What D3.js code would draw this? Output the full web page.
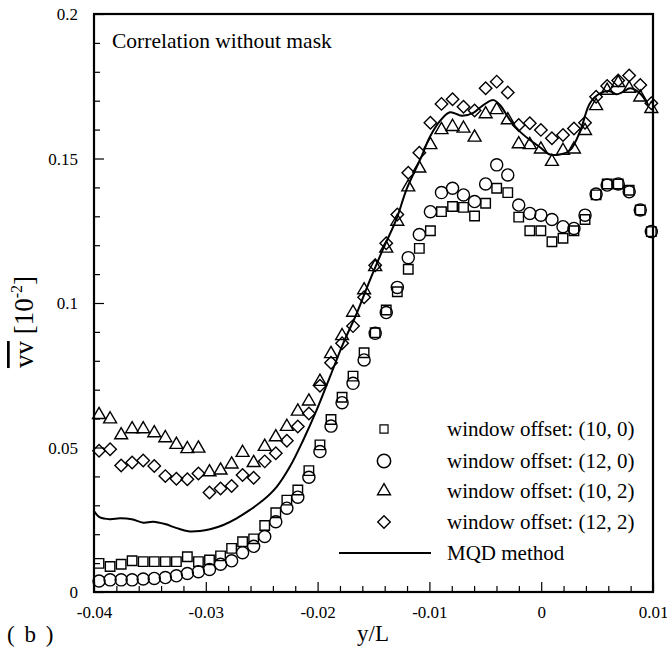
<!DOCTYPE html>
<html><head><meta charset="utf-8">
<script src="https://cdn.jsdelivr.net/npm/d3@7"></script>
<style>
html,body{margin:0;padding:0;background:#fff;}
svg{display:block;font-family:"Liberation Serif","Times New Roman",serif;}
</style></head>
<body><svg id="c" width="667" height="654"></svg>
<script>
// ---- data ----
const xs = [-0.03955,-0.03856,-0.03757,-0.03659,-0.03560,-0.03461,-0.03362,-0.03263,-0.03165,-0.03066,
 -0.02967,-0.02868,-0.02769,-0.02671,-0.02572,-0.02473,-0.02374,-0.02275,-0.02177,-0.02078,
 -0.01979,-0.01880,-0.01781,-0.01683,-0.01584,-0.01485,-0.01386,-0.01287,-0.01189,-0.01090,
 -0.00991,-0.00892,-0.00793,-0.00695,-0.00596,-0.00497,-0.00398,-0.00299,-0.00201,-0.00102,
 -0.00003,0.00096,0.00195,0.00293,0.00392,0.00491,0.00590,0.00689,0.00787,0.00886,0.00985];
const sq100 = [0.0099,0.0088,0.0096,0.0108,0.0105,0.0105,0.0105,0.0105,0.0122,0.0105,
 0.0111,0.0125,0.0151,0.0174,0.0184,0.0230,0.0274,0.0318,0.0353,0.0420,
 0.0509,0.0597,0.0674,0.0747,0.0828,0.0897,0.0976,0.1039,0.1117,0.1189,
 0.1250,0.1316,0.1334,0.1331,0.1301,0.1345,0.1397,0.1382,0.1297,0.1250,
 0.1250,0.1212,0.1224,0.1250,0.1289,0.1374,0.1412,0.1412,0.1390,0.1322,0.1247];
const ci120 = [0.0038,0.0042,0.0042,0.0042,0.0045,0.0047,0.0050,0.0056,0.0064,0.0070,
 0.0078,0.0096,0.0108,0.0136,0.0158,0.0192,0.0243,0.0290,0.0328,0.0397,
 0.0486,0.0574,0.0655,0.0722,0.0803,0.0895,0.0967,0.1054,0.1157,0.1237,
 0.1316,0.1382,0.1397,0.1374,0.1351,0.1412,0.1478,0.1443,0.1339,0.1310,
 0.1304,0.1289,0.1264,0.1258,0.1304,0.1377,0.1408,0.1412,0.1385,0.1322,0.1247];
const tr102 = [0.0613,0.0598,0.0543,0.0564,0.0564,0.0550,0.0533,0.0510,0.0495,0.0497,
 0.0415,0.0421,0.0442,0.0482,0.0447,0.0503,0.0536,0.0572,0.0625,0.0660,
 0.0728,0.0824,0.0886,0.0967,0.1045,0.1125,0.1189,0.1282,0.1401,0.1466,
 0.1547,0.1599,0.1610,0.1604,0.1573,0.1654,0.1668,0.1633,0.1550,0.1547,
 0.1532,0.1489,0.1527,0.1532,0.1596,0.1682,0.1735,0.1762,0.1742,0.1712,0.1672];
const di122 = [0.0489,0.0494,0.0438,0.0448,0.0455,0.0436,0.0401,0.0392,0.0390,0.0410,
 0.0344,0.0358,0.0367,0.0405,0.0395,0.0452,0.0480,0.0523,0.0573,0.0618,
 0.0714,0.0793,0.0861,0.0920,0.1020,0.1131,0.1207,0.1306,0.1451,0.1520,
 0.1624,0.1689,0.1705,0.1679,0.1666,0.1743,0.1766,0.1728,0.1616,0.1622,
 0.1599,0.1570,0.1581,0.1604,0.1624,0.1714,0.1751,0.1770,0.1787,0.1754,0.1691];
const mqdX = [-0.0400,-0.03946,-0.03857,-0.03767,-0.03663,-0.03559,-0.0347,-0.03365,-0.0326,-0.03157,
 -0.03052,-0.02962,-0.02843,-0.02724,-0.02605,-0.02486,-0.02366,-0.02247,-0.02128,-0.02008,
 -0.01889,-0.0177,-0.0165,-0.01531,-0.01412,-0.01292,-0.01203,-0.01084,-0.00995,-0.00905,
 -0.00816,-0.00711,-0.00607,-0.00518,-0.00428,-0.00369,-0.00279,-0.0019,-0.001,-0.00011,
 0.00079,0.00168,0.00258,0.00347,0.00436,0.00526,0.00615,0.00675,0.00734,0.00794,0.00884,0.00958];
const mqdY = [0.0280,0.0258,0.0252,0.0255,0.0252,0.0240,0.0243,0.0235,0.0221,0.0210,
 0.0211,0.0217,0.0232,0.0255,0.0284,0.0318,0.0364,0.0434,0.0526,0.0630,
 0.0745,0.0861,0.0964,0.1080,0.1189,0.1293,0.1395,0.1495,0.1575,0.1630,
 0.1660,0.1648,0.1658,0.1685,0.1702,0.1685,0.1633,0.1593,0.1564,0.1539,
 0.1514,0.1514,0.1529,0.1593,0.1691,0.1725,0.1733,0.1722,0.1731,0.1743,0.1725,0.1685];
const xTicks = [-0.04,-0.03,-0.02,-0.01,0,0.01];
const xTickLabels = ["-0.04","-0.03","-0.02","-0.01","0","0.01"];
const yTicks = [0,0.05,0.1,0.15,0.2];
const yTickLabels = ["0","0.05","0.1","0.15","0.2"];
const legendLabels = ["window offset: (10, 0)","window offset: (12, 0)","window offset: (10, 2)","window offset: (12, 2)","MQD method"];

// ---- drawing ----
const svg = d3.select("#c");
const L=94, R=653, T=14, B=592;
const x = d3.scaleLinear().domain([-0.04,0.01]).range([L,R]);
const y = d3.scaleLinear().domain([0,0.2]).range([B,T]);

const g = svg.append("g");
const xMinor = d3.range(-0.04,0.01+1e-9,0.002).filter(v=>Math.abs(Math.round(v*100)-v*100)>1e-6);
const yMinor = d3.range(0,0.2+1e-9,0.01).filter(v=>Math.abs(Math.round(v*20)-v*20)>1e-6);

const xAxis = d3.axisBottom(x).tickValues(xTicks).tickFormat((d,i)=>xTickLabels[i]).tickSizeInner(-10).tickSizeOuter(0).tickPadding(14);
const gx = g.append("g").attr("transform",`translate(0,${B})`).call(xAxis);
const xAxisMinor = d3.axisBottom(x).tickValues(xMinor).tickFormat("").tickSizeInner(-6).tickSizeOuter(0);
g.append("g").attr("transform",`translate(0,${B})`).call(xAxisMinor);

const yAxis = d3.axisLeft(y).tickValues(yTicks).tickFormat((d,i)=>yTickLabels[i]).tickSizeInner(-10).tickSizeOuter(0).tickPadding(16);
const gy = g.append("g").attr("transform",`translate(${L},0)`).call(yAxis);
const yAxisMinor = d3.axisLeft(y).tickValues(yMinor).tickFormat("").tickSizeInner(-6).tickSizeOuter(0);
g.append("g").attr("transform",`translate(${L},0)`).call(yAxisMinor);

g.selectAll(".domain").remove();
g.selectAll(".tick line").attr("stroke","#000").attr("stroke-width",1.2);
gx.selectAll("text").attr("font-size",17).attr("fill","#000").attr("font-family","Liberation Serif");
gy.selectAll("text").attr("font-size",17).attr("fill","#000").attr("font-family","Liberation Serif").attr("dy","0.35em");
gx.selectAll(".tick text").attr("dy","0.71em");

// frame
svg.append("rect").attr("x",L).attr("y",T).attr("width",R-L).attr("height",B-T)
  .attr("fill","none").attr("stroke","#000").attr("stroke-width",2.2);

// MQD line
const line = d3.line().x(d=>x(d[0])).y(d=>y(d[1])).curve(d3.curveCatmullRom.alpha(0.5));
svg.append("path").datum(mqdX.map((v,i)=>[v,mqdY[i]]))
  .attr("d",line).attr("fill","none").attr("stroke","#000").attr("stroke-width",2);

// markers
const mk = {
  square: d3.symbol().type(d3.symbolSquare).size(90),
  circle: d3.symbol().type(d3.symbolCircle).size(115),
  triangle: d3.symbol().type(d3.symbolTriangle).size(72),
  diamond: d3.symbol().type(d3.symbolSquare).size(78)
};
const series = [
  {vals:sq100, sym:"square"},
  {vals:ci120, sym:"circle"},
  {vals:tr102, sym:"triangle"},
  {vals:di122, sym:"diamond"}
];
series.forEach(s=>{
  svg.append("g").selectAll("path").data(s.vals).join("path")
    .attr("d",mk[s.sym]())
    .attr("transform",(d,i)=>`translate(${x(xs[i])},${y(d)})`+(s.sym==="diamond"?" rotate(45)":""))
    .attr("fill","none").attr("stroke","#000").attr("stroke-width",1.4);
});

// legend
const legY=[429,461,491,522,553];
const lg = svg.append("g");
series.forEach((s,i)=>{
  lg.append("path").attr("d",mk[s.sym]())
    .attr("transform",`translate(384,${legY[i]})`+(s.sym==="diamond"?" rotate(45)":"")+(s.sym==="square"?" scale(0.85)":"")+(s.sym==="circle"?" scale(1.1)":""))
    .attr("fill","none").attr("stroke","#000").attr("stroke-width",1.4);
});
lg.append("line").attr("x1",339).attr("x2",431).attr("y1",legY[4]).attr("y2",legY[4]).attr("stroke","#000").attr("stroke-width",2);
legendLabels.forEach((t,i)=>{
  lg.append("text").attr("x",447).attr("y",legY[i]+7).attr("font-size",21).text(t);
});

// title
svg.append("text").attr("x",112).attr("y",48).attr("font-size",21.5).text("Correlation without mask");

// axis labels
svg.append("text").attr("x",373).attr("y",641).attr("text-anchor","middle").attr("font-size",23).text("y/L");
svg.append("text").attr("x",7).attr("y",642).attr("font-size",23).attr("letter-spacing",2).text("( b )");

const yl = svg.append("text").attr("transform","translate(33,322) rotate(-90)").attr("text-anchor","middle")
  .attr("font-size",27);
yl.append("tspan").attr("style","text-decoration:overline").text("vv");
yl.append("tspan").text(" [10");
yl.append("tspan").attr("font-size",16).attr("dy",-11).text("-2");
yl.append("tspan").attr("dy",11).text("]");
</script>
</body></html>
